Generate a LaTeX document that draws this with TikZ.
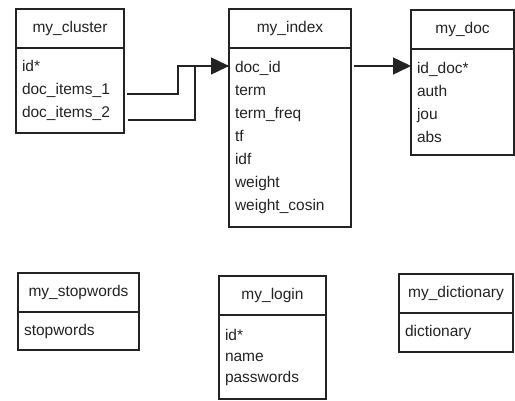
\documentclass[tikz,border=0pt]{standalone}
\usepackage{fontspec}
\setmainfont{Liberation Sans}
\usetikzlibrary{arrows.meta, positioning, calc}
\definecolor{myink}{RGB}{35,35,35}
\tikzset{
  tblhead/.style={rectangle, draw=myink, text=myink, text width=#1, align=center,
    minimum height=39pt, inner xsep=0pt, outer sep=0pt, line width=1.1pt,
    font=\fontsize{15.5}{23}\selectfont},
  tblbody/.style={rectangle, draw=myink, text=myink, text width=#1, align=left,
    inner xsep=6pt, outer sep=0pt, line width=1.1pt,
    font=\fontsize{15.5}{23}\selectfont},
  link/.style={-{Triangle[length=18pt, width=17pt]}, line width=1.5pt, color=myink},
  wire/.style={line width=1.5pt, color=myink}
}
\begin{document}
\begin{tikzpicture}[x=1pt, y=-1pt]
  \useasboundingbox (0,0) rectangle (515,400);
  % top row of tables
  \node[tblhead=108pt, anchor=north west] (cluster) at (16,9) {my\_cluster};
  \node[tblbody=96pt, minimum height=85pt, below=0pt of cluster] (cluster-f)
    {id*\\doc\_items\_1\\doc\_items\_2};
  \node[tblhead=122pt, anchor=north west] (index) at (229,9) {my\_index};
  \node[tblbody=110pt, minimum height=179pt, below=0pt of index] (index-f)
    {doc\_id\\term\\term\_freq\\tf\\idf\\weight\\weight\_cosin};
  \node[tblhead=103pt, anchor=north west] (doc) at (411,10) {my\_doc};
  \node[tblbody=91pt, minimum height=106pt, below=0pt of doc] (doc-f)
    {id\_doc*\\auth\\jou\\abs};
  % bottom row of tables
  \node[tblhead=121pt, anchor=north west] (stop) at (18,273) {my\_stopwords};
  \node[tblbody=109pt, minimum height=38pt, below=0pt of stop] (stop-f) {stopwords};
  \node[tblhead=107pt, anchor=north west] (login) at (219,276) {my\_login};
  \node[tblbody=95pt, minimum height=84pt, below=0pt of login,
    font=\fontsize{15.5}{21}\selectfont] (login-f) {id*\\name\\passwords};
  \node[tblhead=114pt, anchor=north west] (dict) at (399,274) {my\_dictionary};
  \node[tblbody=102pt, minimum height=39pt, below=0pt of dict] (dict-f) {dictionary};
  % field ends
  \coordinate (items1) at ($(cluster-f.north east)+(3,46)$);
  \coordinate (items2) at ($(cluster-f.north east)+(4,72)$);
  \coordinate (docid) at ($(index-f.north west)+(0,18)$);
  \coordinate (idxout) at ($(index-f.north east)+(3,18)$);
  \coordinate (iddoc) at ($(doc-f.north west)+(0,17)$);
  % links
  \draw[wire] (items2) -- ++(67,0) |- (docid);
  \draw[link] (items1) -- ++(51,0) |- (docid);
  \draw[link] (idxout) -- (iddoc);
\end{tikzpicture}
\end{document}
